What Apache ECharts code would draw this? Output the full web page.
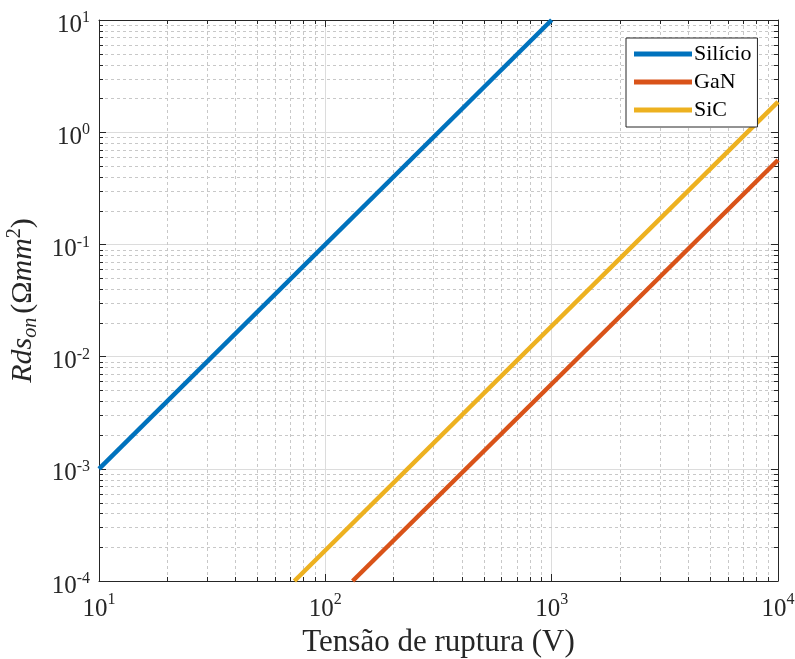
<!DOCTYPE html>
<html>
<head>
<meta charset="utf-8">
<script src="https://cdn.jsdelivr.net/npm/echarts@6/dist/echarts.min.js"></script>
<style>html,body{margin:0;padding:0;background:#fff;}#c{width:795px;height:659px;}</style>
</head>
<body>
<div id="c"></div>
<script>
// ---- data ----
const seriesNames = ['Silício', 'GaN', 'SiC'];
const silicioData = [[10, 0.001], [1000, 10]];
const ganData = [[132, 0.0001], [10000, 0.565]];
const sicData = [[73, 0.0001], [10000, 1.86]];
const xRange = [10, 10000];
const yRange = [0.0001, 10];
const xMinorTicks = [20,30,40,50,60,70,80,90,200,300,400,500,600,700,800,900,2000,3000,4000,5000,6000,7000,8000,9000];
const yMinorTicks = [0.0002,0.0003,0.0004,0.0005,0.0006,0.0007,0.0008,0.0009,
  0.002,0.003,0.004,0.005,0.006,0.007,0.008,0.009,
  0.02,0.03,0.04,0.05,0.06,0.07,0.08,0.09,
  0.2,0.3,0.4,0.5,0.6,0.7,0.8,0.9,
  2,3,4,5,6,7,8,9];
const colors = ['#0072BD', '#D95319', '#EDB120'];

const FONT = 'Liberation Serif';
const AX = '#262626';

function expLabel(v) {
  const e = Math.round(Math.log10(v));
  return '{b|10}{s|' + e + '}';
}
const xLabelRich = {
  b: {fontSize: 25, fontFamily: FONT, color: AX, lineHeight: 35},
  s: {fontSize: 16, fontFamily: FONT, color: AX, verticalAlign: 'top', lineHeight: 35}
};
const yLabelRich = {
  b: {fontSize: 25, fontFamily: FONT, color: AX, lineHeight: 30},
  s: {fontSize: 16, fontFamily: FONT, color: AX, verticalAlign: 'top', lineHeight: 30}
};

const minorData = [];
xMinorTicks.forEach(v => minorData.push([v, 1, 0]));
yMinorTicks.forEach(v => minorData.push([100, v, 1]));

const chart = echarts.init(document.getElementById('c'), null, {renderer: 'canvas'});
const baseX = {
  type: 'log', logBase: 10, min: xRange[0], max: xRange[1], splitNumber: 3,
  axisLine: {show: true, onZero: false, lineStyle: {color: AX, width: 1}},
  axisTick: {show: true, inside: true, length: 7, lineStyle: {color: AX}},
};
const baseY = {
  type: 'log', logBase: 10, min: yRange[0], max: yRange[1], splitNumber: 5,
  axisLine: {show: true, onZero: false, lineStyle: {color: AX, width: 1}},
  axisTick: {show: true, inside: true, length: 7, lineStyle: {color: AX}},
};

chart.setOption({
  animation: false,
  backgroundColor: '#fff',
  grid: {left: 99, right: 17, top: 20, bottom: 78, containLabel: false, outerBoundsMode: 'none'},
  xAxis: [
    Object.assign({}, baseX, {
      position: 'bottom',
      axisLabel: {formatter: expLabel, rich: xLabelRich, margin: 11},
      splitLine: {show: true, lineStyle: {color: '#dcdcdc', width: 1}},
      name: 'Tensão de ruptura (V)', nameLocation: 'middle', nameGap: 45,
      nameTextStyle: {fontFamily: FONT, fontSize: 31, color: AX}
    }),
    Object.assign({}, baseX, {
      position: 'top', axisLabel: {show: false}, splitLine: {show: false}
    })
  ],
  yAxis: [
    Object.assign({}, baseY, {
      position: 'left',
      axisLabel: {formatter: expLabel, rich: yLabelRich, margin: 9, padding: [10, 0, 0, 0]},
      splitLine: {show: true, lineStyle: {color: '#dcdcdc', width: 1}},
      name: '{i|Rds}{sub|on}{n|(Ω}{i|mm}{sup|2}{n|)}',
      nameLocation: 'middle', nameRotate: 90, nameGap: 50,
      nameTextStyle: {
        rich: {
          i: {fontFamily: FONT, fontStyle: 'italic', fontSize: 30, color: AX, lineHeight: 36},
          n: {fontFamily: FONT, fontSize: 30, color: AX, lineHeight: 36},
          sub: {fontFamily: FONT, fontStyle: 'italic', fontSize: 20, color: AX, verticalAlign: 'bottom', lineHeight: 36, padding: [0, 4, 0, 0]},
          sup: {fontFamily: FONT, fontSize: 20, color: AX, verticalAlign: 'top', lineHeight: 36}
        }
      }
    }),
    Object.assign({}, baseY, {
      position: 'right', axisLabel: {show: false}, splitLine: {show: false}
    })
  ],
  legend: {
    orient: 'vertical', left: 626, top: 38,
    data: seriesNames,
    icon: 'rect', itemWidth: 58, itemHeight: 5, itemGap: 6,
    padding: [5, 6, 6, 8],
    backgroundColor: '#fff', borderColor: AX, borderWidth: 1, borderRadius: 0,
    textStyle: {fontFamily: FONT, fontSize: 22, color: '#000', lineHeight: 22, padding: [0, 0, 0, -3]}
  },
  series: [
    {
      type: 'custom', name: 'minor', silent: true, z: 1,
      xAxisIndex: 0, yAxisIndex: 0,
      encode: {x: 0, y: 1},
      data: minorData,
      renderItem: function (params, api) {
        const cs = params.coordSys;
        const kind = api.value(2);
        const p = api.coord([api.value(0), api.value(1)]);
        const dash = {stroke: '#c8c8c8', lineWidth: 1, lineDash: [3, 3], fill: null};
        const tick = {stroke: AX, lineWidth: 1, fill: null};
        if (kind === 0) {
          const x = Math.round(p[0]) + 0.5;
          const y0 = cs.y, y1 = cs.y + cs.height;
          return {type: 'group', children: [
            {type: 'line', shape: {x1: x, y1: y0, x2: x, y2: y1}, style: dash},
            {type: 'line', shape: {x1: x, y1: y1, x2: x, y2: y1 - 4}, style: tick},
            {type: 'line', shape: {x1: x, y1: y0, x2: x, y2: y0 + 4}, style: tick}
          ]};
        } else {
          const y = Math.round(p[1]) + 0.5;
          const x0 = cs.x, x1 = cs.x + cs.width;
          return {type: 'group', children: [
            {type: 'line', shape: {x1: x0, y1: y, x2: x1, y2: y}, style: dash},
            {type: 'line', shape: {x1: x0, y1: y, x2: x0 + 4, y2: y}, style: tick},
            {type: 'line', shape: {x1: x1, y1: y, x2: x1 - 4, y2: y}, style: tick}
          ]};
        }
      }
    },
    {name: seriesNames[0], type: 'line', data: silicioData, showSymbol: false, z: 3,
     lineStyle: {color: colors[0], width: 4.5}, itemStyle: {color: colors[0]}},
    {name: seriesNames[1], type: 'line', data: ganData, showSymbol: false, z: 3,
     lineStyle: {color: colors[1], width: 4.5}, itemStyle: {color: colors[1]}},
    {name: seriesNames[2], type: 'line', data: sicData, showSymbol: false, z: 3,
     lineStyle: {color: colors[2], width: 4.5}, itemStyle: {color: colors[2]}}
  ]
});
</script>
</body>
</html>
